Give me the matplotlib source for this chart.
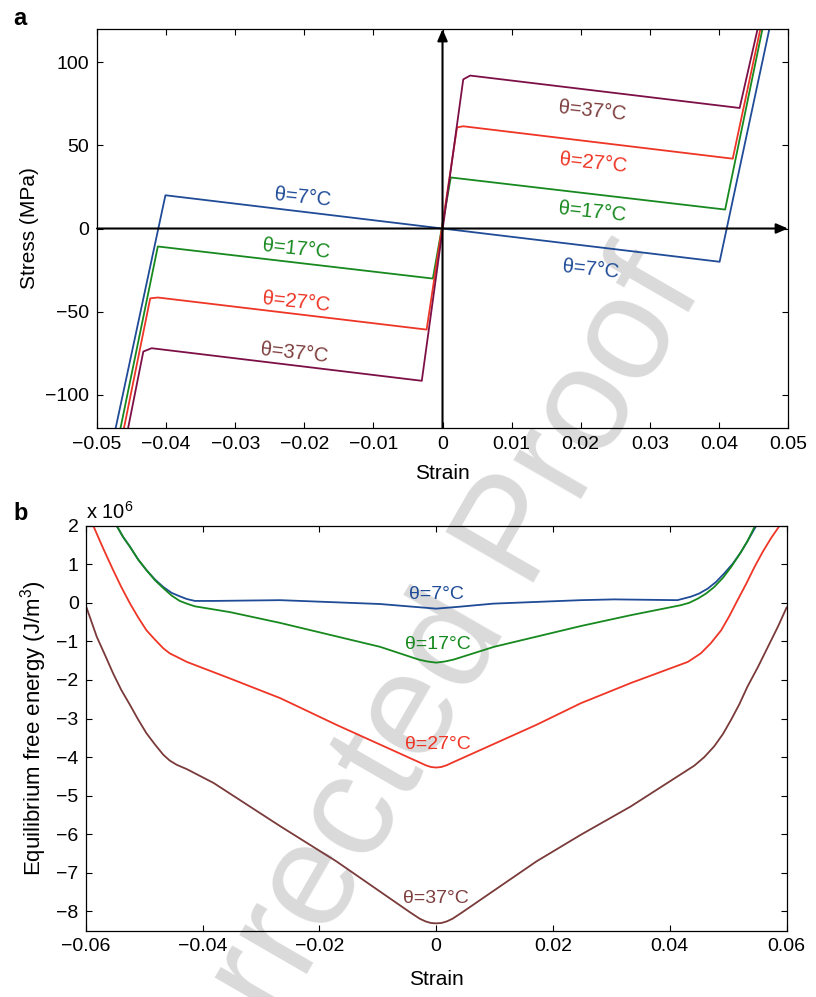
import matplotlib
matplotlib.use('Agg')
import matplotlib.pyplot as plt

plt.rcParams['font.family'] = ['Liberation Sans', 'DejaVu Sans']
plt.rcParams['mathtext.fontset'] = 'custom'
plt.rcParams['mathtext.rm'] = 'Liberation Sans'
plt.rcParams['mathtext.it'] = 'Liberation Sans:italic'

# ---- panel a: stress-strain loops (strain, MPa) ----
a_blue_x = [-0.0473, -0.0401, 0.0401, 0.0473]
a_blue_y = [-120, 20, -20, 120]
a_green_x = [-0.0466, -0.0412, -0.0014, 0.0012, 0.0409, 0.0463]
a_green_y = [-120, -10.8, -30.1, 30.7, 11.4, 120]
a_red_x = [-0.0461, -0.0423, -0.0412, -0.0023, 0.0021, 0.0030, 0.0420, 0.0460]
a_red_y = [-120, -42, -41.5, -60.8, 60.8, 61.5, 42, 120]
a_purple_x = [-0.0455, -0.0433, -0.0421, -0.0030, 0.0030, 0.0040, 0.0430, 0.0456]
a_purple_y = [-120, -74, -72, -91.6, 89.7, 92, 72.5, 120]

# label positions (strain, MPa)
a_labels = ['θ=7°C', 'θ=17°C', 'θ=27°C', 'θ=37°C',
            'θ=7°C', 'θ=17°C', 'θ=27°C', 'θ=37°C']
a_label_x = [-0.0202, -0.0211, -0.0211, -0.0215, 0.0215, 0.0217, 0.0218, 0.0217]
a_label_y = [18.7, -12.6, -44.0, -74.7, -24.7, 9.6, 39.2, 70.5]

# ---- panel b: equilibrium free energy (x 1e6 J/m^3) ----
b_blue_x = [-0.0547, -0.0536, -0.0524, -0.0510, -0.0496, -0.0481, -0.0467, -0.0453,
            -0.0439, -0.0427, -0.0413, -0.0381, -0.0267, -0.0096, -0.0040, 0.0,
            0.0040, 0.0098, 0.0248, 0.0305, 0.0413, 0.0436, 0.0450, 0.0465, 0.0479,
            0.0493, 0.0508, 0.0522, 0.0533, 0.0548]
b_blue_y = [2.0, 1.71, 1.45, 1.12, 0.85, 0.60, 0.41, 0.26, 0.17, 0.10, 0.05, 0.05,
            0.07, -0.03, -0.10, -0.15, -0.10, -0.02, 0.07, 0.09, 0.07, 0.16, 0.24,
            0.37, 0.54, 0.76, 1.02, 1.32, 1.60, 2.0]
b_green_x = [-0.0547, -0.0536, -0.0524, -0.0510, -0.0496, -0.0481, -0.0467, -0.0453,
             -0.0439, -0.0427, -0.0413, -0.0353, -0.0267, -0.0096, -0.0030, -0.0015,
             0.0, 0.0015, 0.0030, 0.0099, 0.0248, 0.0333, 0.0419, 0.0433, 0.0448,
             0.0462, 0.0476, 0.0491, 0.0505, 0.0519, 0.0533, 0.0545]
b_green_y = [2.0, 1.71, 1.45, 1.12, 0.85, 0.58, 0.38, 0.19, 0.05, -0.02, -0.09, -0.24,
             -0.52, -1.14, -1.47, -1.52, -1.55, -1.52, -1.47, -1.14, -0.60, -0.32,
             -0.06, 0.0, 0.11, 0.24, 0.41, 0.65, 0.93, 1.25, 1.60, 1.97]
b_red_x = [-0.0587, -0.0570, -0.0553, -0.0539, -0.0524, -0.0510, -0.0496, -0.0481,
           -0.0467, -0.0456, -0.0444, -0.0427, -0.0353, -0.0267, -0.0171, -0.0028,
           -0.0018, -0.0009, 0.0, 0.0009, 0.0018, 0.0028, 0.0172, 0.0248, 0.0333,
           0.0431, 0.0442, 0.0453, 0.0470, 0.0488, 0.0502, 0.0516, 0.0531, 0.0545,
           0.0559, 0.0573, 0.0588]
b_red_y = [2.0, 1.41, 0.85, 0.41, -0.02, -0.38, -0.71, -0.96, -1.18, -1.31, -1.40,
           -1.53, -1.96, -2.47, -3.16, -4.14, -4.21, -4.255, -4.27, -4.255, -4.21,
           -4.14, -3.16, -2.60, -2.08, -1.53, -1.42, -1.31, -1.05, -0.71, -0.34,
           0.07, 0.50, 0.93, 1.32, 1.67, 2.0]
b_brown_x = [-0.0600, -0.0581, -0.0567, -0.0553, -0.0539, -0.0524, -0.0510, -0.0496,
             -0.0481, -0.0467, -0.0456, -0.0444, -0.0427, -0.0381, -0.0267, -0.0171,
             -0.0045, -0.0028, -0.0018, -0.0009, 0.0, 0.0009, 0.0018, 0.0028, 0.0045,
             0.0172, 0.0248, 0.0333, 0.0442, 0.0459, 0.0476, 0.0491, 0.0505, 0.0519,
             0.0533, 0.0551, 0.0568, 0.0585, 0.0600]
b_brown_y = [-0.06, -0.88, -1.35, -1.83, -2.26, -2.65, -3.03, -3.38, -3.68, -3.94,
             -4.09, -4.20, -4.31, -4.67, -5.79, -6.70, -8.02, -8.19, -8.26, -8.30,
             -8.31, -8.30, -8.26, -8.19, -8.02, -6.70, -6.01, -5.28, -4.22, -4.00,
             -3.72, -3.40, -3.03, -2.63, -2.17, -1.66, -1.14, -0.62, -0.12]

b_labels = ['θ=7°C', 'θ=17°C', 'θ=27°C', 'θ=37°C']
b_label_x = [0.0, 0.0003, 0.0003, 0.0]
b_label_y = [0.22, -1.08, -3.68, -7.67]

BLUE = '#1f4b97'
GREEN = '#17891f'
RED = '#ee3526'
PURPLE = '#7d0f47'
BROWN = '#7a3a3a'
BROWN_TXT = '#7f3f3f'

fig = plt.figure(figsize=(8.16, 9.97), dpi=100)

# watermark, sits behind both panels
fig.text(0.862, 0.712, 'Uncorrected Proof', fontsize=106, color='#dadada',
         rotation=60, rotation_mode='anchor', ha='right', va='baseline', zorder=-1)

ax1 = fig.add_axes([0.1189, 0.5707, 0.8468, 0.4002])
ax2 = fig.add_axes([0.105, 0.0665, 0.859, 0.4062])

for ax in (ax1, ax2):
    ax.set_facecolor('none')
    for s in ax.spines.values():
        s.set_linewidth(0.9)
    ax.tick_params(direction='in', top=True, right=True, length=4.5, width=0.8)

# ---- panel a ----
ax1.plot(a_blue_x, a_blue_y, color=BLUE, lw=1.3)
ax1.plot(a_green_x, a_green_y, color=GREEN, lw=1.3)
ax1.plot(a_red_x, a_red_y, color=RED, lw=1.3)
ax1.plot(a_purple_x, a_purple_y, color=PURPLE, lw=1.3)

ax1.annotate('', xy=(0.05, 0), xytext=(-0.05, 0), annotation_clip=False,
             arrowprops=dict(arrowstyle='-|>,head_length=0.7,head_width=0.3',
                             mutation_scale=10, color='k', lw=1.5,
                             shrinkA=0, shrinkB=0))
ax1.annotate('', xy=(0, 120), xytext=(0, -120), annotation_clip=False,
             arrowprops=dict(arrowstyle='-|>,head_length=0.7,head_width=0.3',
                             mutation_scale=10, color='k', lw=1.5,
                             shrinkA=0, shrinkB=0))

a_colors = [BLUE, GREEN, RED, BROWN_TXT, BLUE, GREEN, RED, BROWN_TXT]
for lab, x, y, c in zip(a_labels, a_label_x, a_label_y, a_colors):
    ax1.text(x, y, lab, color=c, fontsize=14.5, rotation=-6,
             ha='center', va='center', rotation_mode='anchor')

ax1.set_xlim(-0.05, 0.05)
ax1.set_ylim(-120, 120)
ax1.set_xticks([-0.05, -0.04, -0.03, -0.02, -0.01, 0, 0.01, 0.02, 0.03, 0.04, 0.05])
ax1.set_xticklabels(['−0.05', '−0.04', '−0.03', '−0.02', '−0.01', '0',
                     '0.01', '0.02', '0.03', '0.04', '0.05'])
ax1.set_yticks([-100, -50, 0, 50, 100])
ax1.set_yticklabels(['−100', '−50', '0', '50', '100'])
ax1.tick_params(labelsize=14, pad=6)
ax1.set_xlabel('Strain', fontsize=15, labelpad=8)
ax1.set_ylabel('Stress (MPa)', fontsize=15, labelpad=4)
fig.text(0.016, 0.975, 'a', fontsize=17, fontweight='bold')

# ---- panel b ----
ax2.plot(b_blue_x, b_blue_y, color=BLUE, lw=1.3)
ax2.plot(b_green_x, b_green_y, color=GREEN, lw=1.3)
ax2.plot(b_red_x, b_red_y, color=RED, lw=1.3)
ax2.plot(b_brown_x, b_brown_y, color=BROWN, lw=1.3)

b_colors = [BLUE, GREEN, RED, BROWN_TXT]
for lab, x, y, c in zip(b_labels, b_label_x, b_label_y, b_colors):
    ax2.text(x, y, lab, color=c, fontsize=14, ha='center', va='center')

ax2.set_xlim(-0.06, 0.06)
ax2.set_ylim(-8.5, 2)
ax2.set_xticks([-0.06, -0.04, -0.02, 0, 0.02, 0.04, 0.06])
ax2.set_xticklabels(['−0.06', '−0.04', '−0.02', '0', '0.02', '0.04', '0.06'])
ax2.set_yticks(range(-8, 3))
ax2.set_yticklabels(['−8', '−7', '−6', '−5', '−4', '−3', '−2', '−1', '0', '1', '2'])
ax2.tick_params(labelsize=14, pad=5)
ax2.set_xlabel('Strain', fontsize=15, labelpad=11)
ax2.set_ylabel('Equilibrium free energy (J/m$^3$)', fontsize=16, labelpad=5)
ax2.text(0.0, 1.008, 'x 10$^6$', transform=ax2.transAxes, fontsize=14.5,
         ha='left', va='bottom')
fig.text(0.016, 0.478, 'b', fontsize=17, fontweight='bold')

fig.savefig('out.png', dpi=100)
